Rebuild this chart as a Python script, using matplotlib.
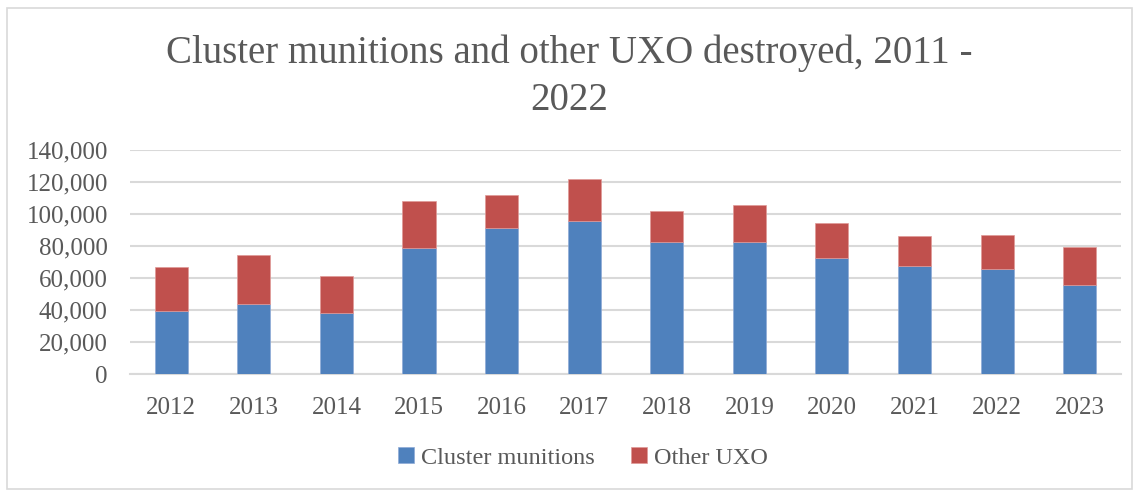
import matplotlib.pyplot as plt
from matplotlib.patches import Rectangle
from matplotlib.ticker import FuncFormatter
import numpy as np

years = ["2012", "2013", "2014", "2015", "2016", "2017",
         "2018", "2019", "2020", "2021", "2022", "2023"]
cluster = [39500, 44000, 38500, 78750, 91250, 95800,
           82500, 82700, 72500, 67700, 65800, 55800]
other = [27700, 30700, 23200, 29450, 20550, 26300,
         19700, 22900, 21800, 18750, 21460, 23500]

blue = "#4F81BD"
red = "#C0504D"
txt = "#595959"
grid = "#d9d9d9"

plt.rcParams["font.family"] = ["Liberation Serif", "DejaVu Serif"]

fig = plt.figure(figsize=(11.39, 4.93), dpi=100)
ax = fig.add_axes([0.1141, 0.2408, 0.8701, 0.4543])

x = np.arange(len(years))
ax.bar(x, cluster, width=0.4, color=blue, edgecolor="#8eaad6", linewidth=0.5,
       label="Cluster munitions", zorder=3)
ax.bar(x, other, width=0.4, bottom=cluster, color=red, edgecolor="#e09a98",
       linewidth=0.5, label="Other UXO", zorder=3)

ax.set_ylim(0, 140000)
ax.set_xlim(-0.5, len(years) - 0.5)
ax.set_yticks(range(0, 140001, 20000))
ax.yaxis.set_major_formatter(FuncFormatter(lambda v, p: f"{int(v):,}"))
ax.set_xticks(x)
ax.set_xticklabels(years)
ax.yaxis.grid(True, color=grid, linewidth=1.5, zorder=0)
for s in ["top", "right", "left"]:
    ax.spines[s].set_visible(False)
ax.spines["bottom"].set_color(grid)
ax.spines["bottom"].set_linewidth(1.5)
ax.tick_params(axis="both", length=0, labelsize=18, colors=txt)
ax.tick_params(axis="y", pad=16)
ax.tick_params(axis="x", pad=16)

fig.text(0.5, 0.893, "Cluster munitions and other UXO destroyed, 2011 -",
         ha="center", va="center", fontsize=28, color=txt)
fig.text(0.5, 0.797, "2022", ha="center", va="center", fontsize=28, color=txt)

fig.legend(loc="center", bbox_to_anchor=(0.512, 0.071), ncol=2, frameon=False,
           fontsize=17.5, labelcolor=txt, handlelength=0.65, handleheight=0.65,
           handletextpad=0.3, columnspacing=1.5)

fig.patches.append(Rectangle((0.006, 0.008), 0.988, 0.975,
                             transform=fig.transFigure, fill=False,
                             edgecolor="#d9d9d9", linewidth=1.2))

fig.savefig("out.png", dpi=100)
